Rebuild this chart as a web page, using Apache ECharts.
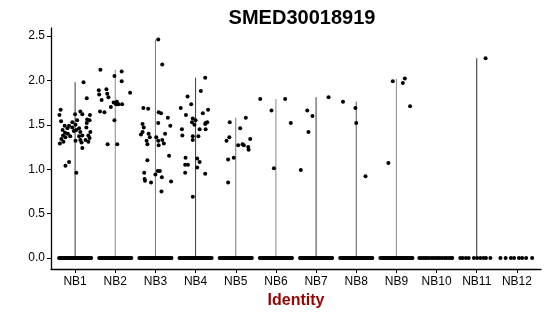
<!DOCTYPE html>
<html>
<head>
    <meta charset="utf-8">
    <title>SMED30018919</title>
    <style>
        html, body { margin: 0; padding: 0; background: #fff; }
    </style>
</head>
<body>
    <div id="main" style="width: 550px;height:316px;"></div>
</body>
<script src="https://cdn.jsdelivr.net/npm/echarts@6/dist/echarts.min.js"></script>
<script>
var categories = ['NB1', 'NB2', 'NB3', 'NB4', 'NB5', 'NB6', 'NB7', 'NB8', 'NB9', 'NB10', 'NB11', 'NB12'];
var yTicks = [0, 0.5, 1, 1.5, 2, 2.5];

// non-zero cells per group: [jitter, expression]
var nb1 = [[0.21,1.98],[0.29,1.80],[-0.36,1.67],[-0.39,1.61],[-0.35,1.54],[0.00,1.62],[0.13,1.65],[0.18,1.62],
    [0.37,1.61],[0.30,1.56],[0.05,1.55],[0.36,1.55],[-0.07,1.53],[0.29,1.52],[-0.15,1.49],[-0.26,1.49],[0.01,1.50],
    [-0.31,1.44],[-0.19,1.46],[-0.07,1.47],[0.10,1.46],[0.28,1.47],[0.38,1.42],[-0.25,1.41],[-0.03,1.43],[0.03,1.44],
    [0.13,1.42],[-0.30,1.38],[-0.18,1.40],[-0.12,1.37],[0.10,1.37],[0.18,1.38],[0.33,1.38],[-0.34,1.34],[-0.24,1.36],
    [0.13,1.33],[0.36,1.35],[0.26,1.33],[-0.38,1.29],[-0.29,1.31],[0.01,1.32],[0.16,1.30],[0.33,1.31],[0.18,1.24],
    [-0.15,1.08],[-0.24,1.04],[0.03,0.96]];
var nb2 = [[-0.37,2.12],[-0.02,2.05],[0.16,2.10],[0.16,1.99],[0.37,1.86],[-0.41,1.89],[-0.22,1.90],[-0.40,1.84],
    [-0.20,1.85],[-0.34,1.78],[-0.17,1.81],[-0.38,1.65],[-0.27,1.64],[-0.11,1.70],[-0.04,1.75],[0.02,1.73],[0.08,1.73],
    [0.17,1.73],[0.04,1.76],[-0.02,1.55],[-0.19,1.28],[0.05,1.28]];
var nb3 = [[0.07,2.46],[0.17,2.18],[-0.30,1.69],[-0.18,1.68],[0.08,1.64],[0.14,1.63],[0.31,1.58],[0.37,1.49],
    [0.07,1.52],[-0.32,1.51],[-0.29,1.47],[-0.32,1.42],[-0.36,1.39],[-0.17,1.40],[-0.14,1.36],[-0.22,1.32],[-0.20,1.28],
    [0.02,1.36],[0.07,1.32],[0.17,1.33],[0.08,1.27],[0.21,1.29],[0.24,1.40],[0.34,1.15],[-0.20,1.10],[-0.28,0.96],
    [-0.27,0.89],[-0.26,0.87],[-0.11,0.85],[0.00,0.94],[0.06,0.98],[0.11,0.98],[0.16,0.91],[0.39,0.86],[0.15,0.75]];
var nb4 = [[0.24,2.03],[0.13,1.88],[-0.20,1.82],[-0.11,1.73],[-0.37,1.69],[0.18,1.63],[0.31,1.67],[-0.24,1.61],
    [-0.07,1.57],[0.00,1.55],[-0.09,1.53],[-0.03,1.50],[0.25,1.52],[0.29,1.53],[0.24,1.51],[-0.34,1.45],[0.10,1.45],
    [0.25,1.45],[-0.33,1.38],[-0.07,1.37],[0.07,1.37],[-0.07,1.33],[-0.25,1.13],[0.04,1.12],[-0.26,1.05],[-0.19,1.05],
    [0.04,1.02],[0.10,1.08],[-0.26,0.96],[0.24,0.95],[-0.07,0.69]];
var nb5 = [[0.25,1.58],[-0.15,1.53],[0.11,1.46],[-0.16,1.36],[-0.23,1.32],[0.36,1.34],[0.06,1.27],[0.17,1.28],
    [0.20,1.27],[0.31,1.25],[0.32,1.22],[-0.05,1.13],[-0.19,1.11],[-0.19,0.85]];
var nb6 = [[-0.39,1.79],[-0.11,1.66],[0.23,1.79],[0.37,1.52],[-0.05,1.01]];
var nb7 = [[-0.22,1.66],[-0.09,1.60],[-0.19,1.42],[0.31,1.81],[-0.38,0.99]];
var nb8 = [[-0.33,1.76],[-0.02,1.69],[0.00,1.52],[0.23,0.92]];
var nb9 = [[-0.09,1.99],[0.16,1.97],[0.21,2.02],[0.34,1.71],[-0.20,1.07]];
var nb10 = [];
var nb11 = [[0.22,2.25]];
var nb12 = [];
var groups = [nb1, nb2, nb3, nb4, nb5, nb6, nb7, nb8, nb9, nb10, nb11, nb12];

// zero-expression cells, jitter only
var zeroDense = [-0.40,-0.37,-0.35,-0.32,-0.30,-0.27,-0.24,-0.22,-0.19,-0.17,-0.14,-0.11,-0.09,-0.06,-0.04,-0.01,
    0.02,0.04,0.07,0.09,0.12,0.15,0.17,0.20,0.22,0.25,0.28,0.30,0.33,0.35,0.38,0.40];
var zeroNB10 = [-0.43,-0.38,-0.33,-0.28,-0.24,-0.19,-0.13,-0.08,-0.02,0.03,0.08,0.14,0.20,0.25,0.31,0.36,0.39];
var zeroNB11 = [-0.41,-0.35,-0.27,-0.20,-0.07,0.01,0.09,0.17,0.23,0.34];
var zeroNB12 = [-0.41,-0.28,-0.15,-0.07,0.05,0.13,0.23,0.38];
var zeros = [zeroDense, zeroDense, zeroDense, zeroDense, zeroDense, zeroDense, zeroDense, zeroDense, zeroDense,
    zeroNB10, zeroNB11, zeroNB12];

var lineColors = ['#3a3a3a', '#8a8a8a', '#7a7a7a', '#3a3a3a', '#7a7a7a', '#8a8a8a', '#3a3a3a', '#555555', '#8a8a8a',
    '#555555', '#2a2a2a', '#555555'];

var points = [];
var violins = [];
groups.forEach(function (g, i) {
    var top = 0;
    zeros[i].forEach(function (j) { points.push([i + 1 + j, 0]); });
    g.forEach(function (p) {
        points.push([i + 1 + p[0], p[1]]);
        if (p[1] > top) top = p[1];
    });
    if (top > 0) violins.push([i + 1, top, i]);
});

var font = 'Liberation Sans, Arial, sans-serif';
var myChart = echarts.init(document.getElementById('main'));

myChart.setOption({
    animation: false,
    backgroundColor: '#fff',
    title: {
        text: 'SMED30018919',
        left: 297,
        top: 3,
        textAlign: 'center',
        textStyle: { fontFamily: font, fontWeight: 'bold', fontSize: 20, color: '#000' }
    },
    grid: { left: 51, right: 9, top: 28, bottom: 47 },
    xAxis: {
        type: 'value',
        min: 0.4,
        max: 12.6,
        name: 'Identity',
        nameLocation: 'middle',
        nameGap: 24,
        nameTextStyle: { fontFamily: font, fontWeight: 'bold', fontSize: 16, color: '#990000' },
        axisLine: { show: true, onZero: false, lineStyle: { color: '#000', width: 1.3 } },
        axisTick: { show: true, length: 4, customValues: [1, 2, 3, 4, 5, 6, 7, 8, 9, 10, 11, 12], lineStyle: { color: '#000' } },
        axisLabel: {
            customValues: [1, 2, 3, 4, 5, 6, 7, 8, 9, 10, 11, 12],
            margin: 7,
            fontFamily: font, fontSize: 12, color: '#000',
            formatter: function (v) { return categories[Math.round(v) - 1]; }
        },
        splitLine: { show: false }
    },
    yAxis: {
        type: 'value',
        min: -0.124,
        max: 2.59,
        axisLine: { show: true, onZero: false, lineStyle: { color: '#000', width: 1.3 } },
        axisTick: { show: true, length: 4, customValues: yTicks, lineStyle: { color: '#000' } },
        axisLabel: {
            customValues: yTicks,
            margin: 6,
            fontFamily: font, fontSize: 12, color: '#000',
            formatter: function (v) { return v.toFixed(1); }
        },
        splitLine: { show: false }
    },
    series: [
        {
            type: 'custom',
            data: violins,
            renderItem: function (params, api) {
                var x = api.value(0);
                var p0 = api.coord([x, 0]);
                var p1 = api.coord([x, api.value(1)]);
                return {
                    type: 'line',
                    shape: { x1: p0[0], y1: p0[1], x2: p1[0], y2: p1[1] },
                    style: { stroke: lineColors[api.value(2)], lineWidth: 1 }
                };
            },
            z: 1
        },
        {
            type: 'scatter',
            data: points,
            symbol: 'circle',
            symbolSize: 4,
            itemStyle: { color: '#000', opacity: 1 },
            z: 2
        }
    ]
});
</script>
</html>
